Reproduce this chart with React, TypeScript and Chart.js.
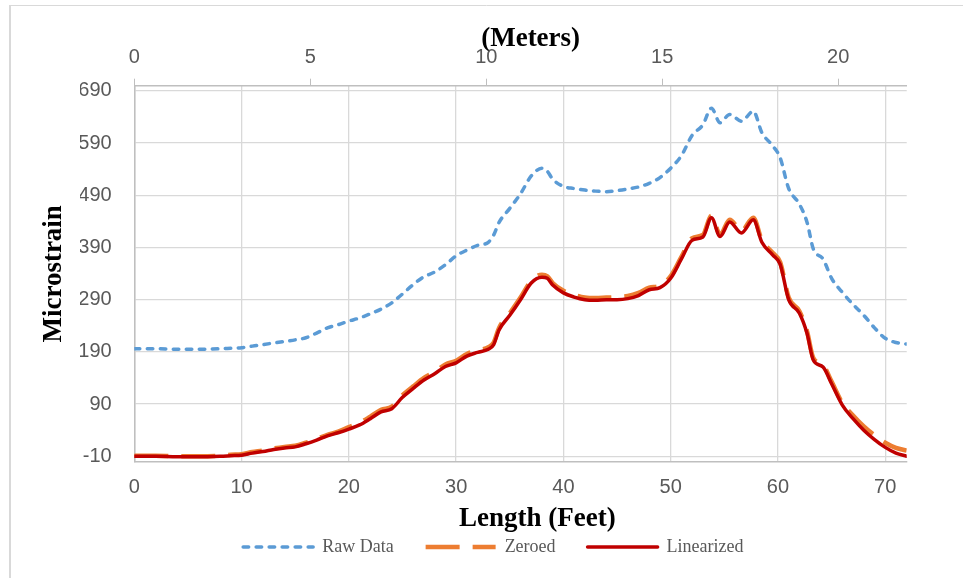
import React, { useEffect, useRef } from 'react';
import { Chart, registerables } from 'chart.js';

Chart.register(...registerables);

// Length along the member (feet)
const feet = [
  0, 2, 4, 6, 8, 9, 10, 11, 12, 13, 14, 15, 16, 17, 18, 19, 20, 21, 22, 23, 24, 25, 26, 27, 28, 29, 30, 31, 32, 33,
  33.5, 34, 35, 36, 37, 38, 38.5, 39, 40, 41, 42, 43, 44, 45, 46, 47, 48, 49, 50, 51, 52, 53,
  53.8, 54.6, 55.5, 56.6, 57.7, 58.5, 59.5, 60.2, 61, 62, 62.7, 63.3, 64.2, 65, 66, 67, 68, 69, 70, 71, 72,
];

const rawData = [
  196, 196, 195, 195, 196, 197, 198, 201, 204, 207, 210, 213, 217, 226, 236, 242, 249, 255, 263, 272, 284, 301, 319, 334, 343, 357, 374, 385, 394, 400,
  414, 438, 465, 493, 527, 542, 536, 521, 507, 503, 500, 498, 497, 499, 502, 506, 513, 524, 542, 566, 605, 625,
  657, 629, 645, 632, 651, 610, 585, 562, 503, 473, 439, 387, 368, 331, 304, 281, 260, 236, 216, 208, 205,
];

const zeroed = [
  -9, -9, -10, -10, -9, -7, -6, -2, 1, 5, 8, 10, 16, 23, 31, 37, 46, 54, 66, 79, 85, 107, 124, 140, 152, 166, 173, 186, 193, 199,
  208, 236, 264, 294, 326, 338, 335, 322, 307, 299, 294, 293, 294, 295, 297, 303, 313, 317, 335, 372, 408, 414,
  451, 415, 443, 422, 447, 404, 380, 362, 294, 268, 230, 178, 165, 133, 92, 68, 47, 30, 16, 6, 1,
];

const linearized = [
  -10, -10, -11, -11, -10, -9, -8, -4, -1, 3, 6, 8, 14, 21, 29, 35, 42, 50, 62, 75, 81, 103, 120, 136, 148, 162, 169, 182, 189, 195,
  204, 232, 260, 290, 322, 333, 331, 318, 303, 295, 290, 289, 290, 290, 292, 298, 309, 313, 331, 368, 404, 410,
  447, 411, 439, 418, 443, 400, 376, 358, 290, 264, 226, 174, 161, 129, 88, 62, 40, 22, 7, -4, -10,
];

const yTickValues = [-10, 90, 190, 290, 390, 490, 590, 690];
const FEET_PER_METER = 3.28084;
const MAX_FEET = 72;

const seriesNames = ['Raw Data', 'Zeroed', 'Linearized'];
const seriesColors = ['#5B9BD5', '#ED7D31', '#C00000'];

const tickFont = { family: 'Liberation Sans, Arial, sans-serif', size: 20 };
const titleFont = { family: 'Liberation Serif, Times New Roman, serif', size: 27, weight: 'bold' as const };

const borderPlugin = {
  id: 'outerBorder',
  beforeDraw(chart: any) {
    const { ctx, width, height } = chart;
    ctx.save();
    ctx.strokeStyle = '#D9D9D9';
    ctx.lineWidth = 2;
    ctx.beginPath();
    ctx.moveTo(10, height);
    ctx.lineTo(10, 5);
    ctx.stroke();
    ctx.lineWidth = 1;
    ctx.beginPath();
    ctx.moveTo(10, 5.5);
    ctx.lineTo(width, 5.5);
    ctx.stroke();
    ctx.restore();
  },
};

export default function App() {
  const canvasRef = useRef<HTMLCanvasElement>(null);

  useEffect(() => {
    const toPoints = (vals: number[]) => feet.map((x, i) => ({ x, y: vals[i] }));
    const dashes = [[5.5, 7.5], [34, 13], []];
    const widths = [3.5, 4.5, 3.5];
    const caps = ['round', 'butt', 'round'];

    const chart = new Chart(canvasRef.current as HTMLCanvasElement, {
      type: 'line',
      data: {
        datasets: [rawData, zeroed, linearized].map((vals, i) => ({
          label: seriesNames[i],
          data: toPoints(vals),
          borderColor: seriesColors[i],
          backgroundColor: seriesColors[i],
          borderWidth: widths[i],
          borderDash: dashes[i],
          borderCapStyle: caps[i] as CanvasLineCap,
          borderJoinStyle: 'round' as CanvasLineJoin,
          pointRadius: 0,
          pointHoverRadius: 0,
          pointStyle: 'line',
          cubicInterpolationMode: 'monotone' as const,
          fill: false,
          order: 3 - i,
          xAxisID: 'x',
          yAxisID: 'y',
        })),
      },
      options: {
        animation: false,
        responsive: true,
        maintainAspectRatio: false,
        layout: { padding: { left: 80, right: 56.3, top: 0, bottom: 12 } },
        plugins: {
          tooltip: { enabled: false },
          legend: {
            position: 'bottom',
            labels: {
              usePointStyle: true,
              pointStyleWidth: 70,
              padding: 32,
              color: '#595959',
              font: { family: 'Liberation Serif, Times New Roman, serif', size: 18 },
              generateLabels: (c: any) =>
                c.data.datasets.map((ds: any, i: number) => ({
                  text: ds.label,
                  fillStyle: ds.borderColor,
                  strokeStyle: ds.borderColor,
                  lineWidth: ds.borderWidth,
                  lineDash: ds.borderDash,
                  lineCap: ds.borderCapStyle,
                  pointStyle: 'line',
                  fontColor: '#595959',
                  hidden: false,
                  datasetIndex: i,
                })),
            },
          },
        },
        scales: {
          x: {
            type: 'linear',
            position: 'bottom',
            min: 0,
            max: MAX_FEET,
            afterFit: (s: any) => { s.height = 44; },
            ticks: { stepSize: 10, includeBounds: false, color: '#595959', font: tickFont, padding: 13, maxRotation: 0 },
            grid: { color: '#D9D9D9', drawTicks: false, lineWidth: 1.3 },
            border: { color: '#BFBFBF', width: 1.5 },
            title: { display: true, text: '     Length (Feet)', color: '#000', font: titleFont, padding: { top: 0, bottom: -29.2 } },
          },
          x2: {
            type: 'linear',
            position: 'top',
            min: 0,
            max: MAX_FEET / FEET_PER_METER,
            afterFit: (s: any) => { s.height = 85.7; },
            ticks: { stepSize: 5, includeBounds: false, color: '#595959', font: tickFont, padding: 9.7, maxRotation: 0 },
            grid: { drawOnChartArea: false, drawTicks: true, tickLength: 7, color: '#BFBFBF', tickColor: '#BFBFBF' },
            border: { color: '#BFBFBF', width: 1.5 },
            title: { display: true, text: '   (Meters)', color: '#000', font: titleFont, padding: { top: 22.5, bottom: 0 } },
          },
          y: {
            type: 'linear',
            position: 'left',
            min: -21,
            max: 700,
            afterFit: (s: any) => { s.width = 54.3; },
            afterBuildTicks: (s: any) => { s.ticks = yTickValues.map((v) => ({ value: v })); },
            ticks: { color: '#595959', font: tickFont, padding: 22.6 },
            grid: { color: '#D9D9D9', drawTicks: false, lineWidth: 1.3 },
            border: { color: '#BFBFBF', width: 1.5 },
            title: { display: true, text: 'Microstrain', color: '#000', font: titleFont, padding: { top: -42.5, bottom: 0 } },
          },
        },
      },
      plugins: [borderPlugin],
    } as any);

    return () => chart.destroy();
  }, []);

  return (
    <div style={{ position: 'fixed', left: 0, top: 0, width: 963, height: 578, background: '#ffffff' }}>
      <canvas ref={canvasRef} />
    </div>
  );
}
